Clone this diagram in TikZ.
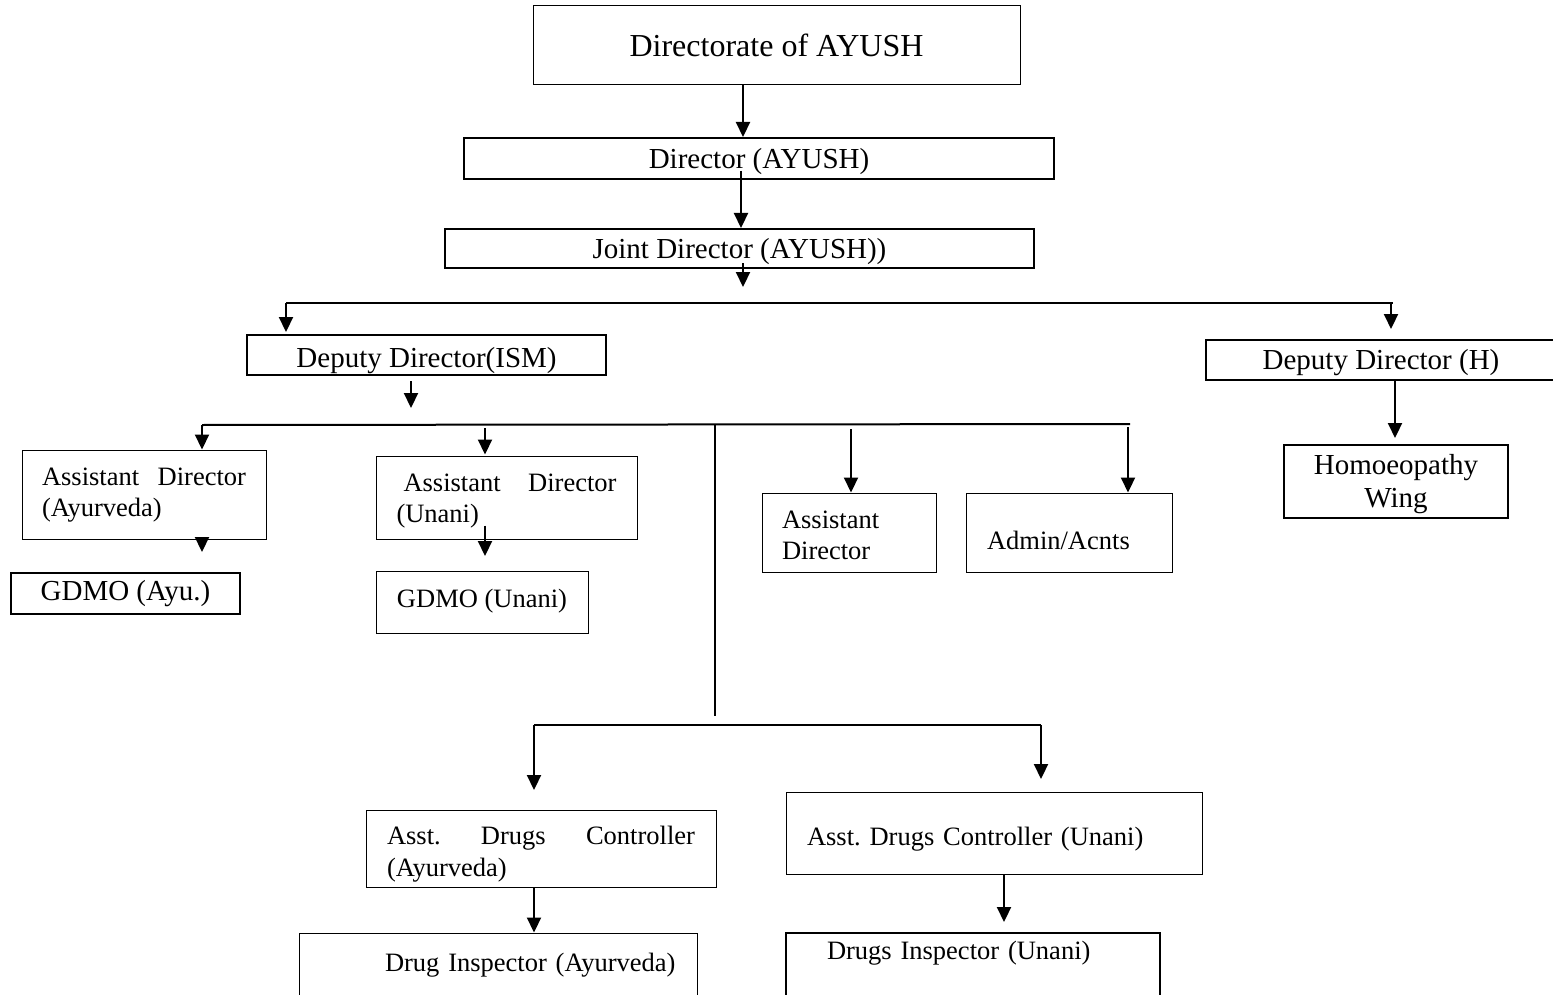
\documentclass[tikz,border=0pt]{standalone}
\usepackage{fontspec}
\setmainfont{Liberation Serif}
\usetikzlibrary{arrows.meta,calc}
\frenchspacing
\newcommand{\fsA}{\fontsize{26.5pt}{31pt}\selectfont}
\newcommand{\fsAb}{\fontsize{26.5pt}{32pt}\selectfont}
\newcommand{\fsB}{\fontsize{29pt}{33pt}\selectfont}
\newcommand{\fsC}{\fontsize{32pt}{38pt}\selectfont}
\tikzset{
  box/.style={draw, rectangle, inner sep=0pt, line width=1pt},
  thickbox/.style={box, line width=2pt},
  arr/.style={line width=2.2pt, -{Triangle[width=14pt,length=15pt]}},
  lin/.style={line width=2pt},
  thinlin/.style={line width=1.5pt}
}
\begin{document}
\begin{tikzpicture}[x=1pt,y=-1pt]
\useasboundingbox (0,0) rectangle (1553,995);
\fill[white] (0,0) rectangle (1553,995);
\clip (0,0) rectangle (1553,995);

% boxes
\node[box, font=\fsC, minimum width=487pt, minimum height=79pt, text height=21.2pt, text depth=0pt] (dir) at (776.5,45.5) {Directorate of AYUSH};
\node[thickbox, font=\fsB, minimum width=590pt, minimum height=41pt, text height=19.2pt, text depth=0pt] (director) at (759,158.5) {Director (AYUSH)};
\node[thickbox, font=\fsB, minimum width=589pt, minimum height=39pt, text height=19.2pt, text depth=0pt] (joint) at (739.5,248.5) {Joint Director (AYUSH))};
\node[thickbox, font=\fsB, minimum width=359pt, minimum height=40pt, text height=24.2pt, text depth=0pt] (ddism) at (426.5,355) {Deputy Director(ISM)};
\node[thickbox, font=\fsB, minimum width=350pt, minimum height=40pt, text height=19.2pt, text depth=0pt] (ddh) at (1381,360) {Deputy Director (H)};
\node[thickbox, font=\fsB, minimum width=224pt, minimum height=73pt, inner xsep=10pt, text width=204pt, align=center, text height=19.2pt, text depth=33pt] (homoeo) at (1396,481.5) {Homoeopathy\\Wing};
\node[box, font=\fsA, minimum width=244pt, minimum height=89pt, inner xsep=20pt, text width=204pt, align=left, text height=12.5pt, text depth=31pt] (adayur) at (144,494.5) {Assistant\hfill Director\\(Ayurveda)};
\node[thickbox, font=\fsB, minimum width=229pt, minimum height=41pt, text height=19.2pt, text depth=5pt] (gdmoayu) at (125.5,593.5) {GDMO (Ayu.)};
\node[box, font=\fsA, minimum width=261pt, minimum height=83pt, inner xsep=20.5pt, text width=220pt, align=left, text height=19.5pt, text depth=31pt] (adunani) at (506.5,497.5) {\hspace*{7pt}Assistant\hfill Director\\(Unani)};
\node[box, font=\fsA, minimum width=212pt, minimum height=61.5pt, text height=17.5pt, text depth=8pt] (gdmounani) at (482,602.3) {GDMO (Unani)};
\node[box, font=\fsA, minimum width=174pt, minimum height=79pt, inner xsep=20pt, text width=134pt, align=left, text height=23.5pt, text depth=31pt] (admid) at (849,532.5) {Assistant\\Director};
\node[box, font=\fsA, minimum width=206pt, minimum height=79pt, inner xsep=21pt, text width=164pt, align=left, text height=33pt, text depth=0pt] (admin) at (1069,532.5) {Admin/Acnts};
\node[box, font=\fsAb, minimum width=350pt, minimum height=77pt, inner xsep=21pt, text width=308pt, align=left, text height=24.5pt, text depth=32pt] (adcayur) at (541,848.5) {Asst.\hfill Drugs\hfill Controller\\(Ayurveda)};
\node[box, font=\fsA, minimum width=416pt, minimum height=82pt, inner xsep=21pt, text width=374pt, align=left, text height=25.5pt, text depth=0pt] (adcunani) at (994,833) {Asst. Drugs Controller (Unani)};
\node[box, font=\fsA, minimum width=398pt, minimum height=80pt, inner xsep=0pt, text width=398pt, align=left, text height=17.5pt, text depth=20pt] (diayur) at (498,973) {\hspace*{86pt}Drug Inspector (Ayurveda)};
\node[thickbox, font=\fsA, minimum width=374pt, minimum height=80pt, inner xsep=0pt, text width=374pt, align=left, text height=17.5pt, text depth=44pt] (diunani) at (973,973) {\hspace*{41pt}Drugs Inspector (Unani)};

% column and junction coordinates
\coordinate (X743) at (743,0);
\coordinate (X741) at (741,0);
\coordinate (X411) at (411,0);
\coordinate (X485) at (485,0);
\coordinate (X851) at (851,0);
\coordinate (X1128) at (1128,0);
\coordinate (X202) at (202,0);
\coordinate (X1395) at (1395,0);
\coordinate (X534) at (534,0);
\coordinate (X1004) at (1004,0);
\coordinate (jEnd) at (743,287);
\coordinate (b1L) at (286,303);
\coordinate (b1R) at (1393,303);
\coordinate (hEnd) at (1391,329);
\coordinate (dEnd) at (411,408);
\coordinate (b2L) at (202,425);
\coordinate (b2R) at (1130,424);
\coordinate (vTop) at (715,424);
\coordinate (vBot) at (715,716);
\coordinate (b3L) at (534,725);
\coordinate (b3R) at (1041,725);
\coordinate (cEndA) at (534,790);
\coordinate (cEndB) at (1041,779);
\coordinate (gEndA) at (202,552);
\coordinate (gEndB) at (485,556);
\coordinate (hwEnd) at (1395,438);
\coordinate (diEndB) at (1004,922);

% connectors
\draw[arr] (dir.south -| X743) -- (director.north -| X743);
\draw[arr] ($(director.south -| X741)+(0,-9)$) -- (joint.north -| X741);
\draw[arr] ($(joint.south -| X743)+(0,-6)$) -- (jEnd);
\draw[lin] (b1L) -- (b1R);
\draw[arr] (b1L) -- ($(ddism.north -| b1L)+(0,-2)$);
\draw[arr] (hEnd |- b1R) -- (hEnd);
\draw[arr] ($(ddism.south -| X411)+(0,5)$) -- (dEnd);
\draw[lin] (b2L) -- (b2R);
\draw[arr] (b2L) -- (adayur.north -| b2L);
\draw[arr] ($(b2L -| X485)+(0,3)$) -- ($(adunani.north -| X485)+(0,-1)$);
\draw[arr] ($(b2L -| X851)+(0,4)$) -- (admid.north -| X851);
\draw[arr] ($(b2L -| X1128)+(0,2)$) -- (admin.north -| X1128);
\draw[thinlin] (vTop) -- (vBot);
\draw[lin] (b3L) -- (b3R);
\draw[arr] (b3L) -- (cEndA);
\draw[arr] (b3R) -- (cEndB);
\draw[arr] ($(adayur.south -| X202)+(0,-1)$) -- (gEndA);
\draw[arr] ($(adunani.south -| X485)+(0,-14)$) -- (gEndB);
\draw[arr] (ddh.south -| X1395) -- (hwEnd);
\draw[arr] (adcayur.south -| X534) -- (diayur.north -| X534);
\draw[arr] (adcunani.south -| X1004) -- (diEndB);
\end{tikzpicture}
\end{document}
